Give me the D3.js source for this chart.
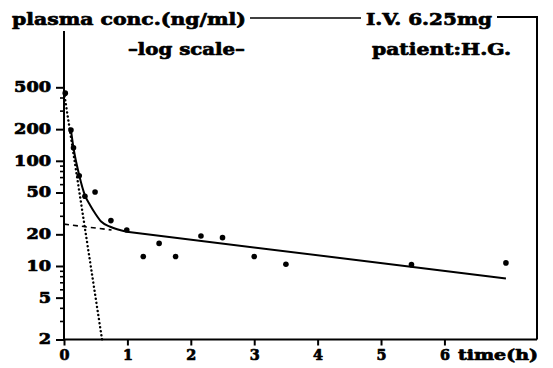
<!DOCTYPE html>
<html>
<head>
<meta charset="utf-8">
<script src="https://cdn.jsdelivr.net/npm/d3@7"></script>
<style>
  html, body { margin: 0; padding: 0; background: #fff; }
  svg { display: block; }
  text { font-family: "DejaVu Serif", "Liberation Serif", serif; font-weight: bold; fill: #000;
         stroke: #000; stroke-width: 0.7px; stroke-linejoin: round; }
</style>
</head>
<body>
<svg id="chart" width="553" height="368"></svg>
<script>
// Measured plasma concentrations after a 6.25 mg i.v. dose (patient H.G.)
const timeH    = [0.02, 0.11, 0.15, 0.24, 0.33, 0.49, 0.74, 0.99, 1.25, 1.50, 1.76, 2.16, 2.50, 3.00, 3.50, 5.48, 6.97];
const concNgMl = [440, 196, 133, 72, 46, 50.5, 27, 22, 12.3, 16.4, 12.3, 19.3, 18.6, 12.3, 10.4, 10.3, 10.7];

// Fitted curve: early distribution part and terminal log-linear part
const fitEarlyTime = [0.11, 0.147, 0.24, 0.33, 0.41, 0.49, 0.59, 0.73, 0.99];
const fitEarlyConc = [196, 136, 73, 47, 38, 31.7, 26.3, 23.6, 21.2];
const fitTermTime  = [0.99, 6.97];
const fitTermConc  = [21.2, 7.6];

// Back-extrapolated elimination phase (dashed) and residual distribution phase (dotted)
const betaTime  = [0, 0.75];
const betaConc  = [25, 22];
const alphaTime = [0, 0.6];
const alphaConc = [450, 2];

// Axis ticks
const yMajorTicks = [2, 5, 10, 20, 50, 100, 200, 500];
const yMinorTicks = [3, 4, 6, 7, 8, 9, 30, 40, 60, 70, 80, 90, 300, 400];
const xTicks = [0, 1, 2, 3, 4, 5, 6];

const svg = d3.select("#chart");

const x = d3.scaleLinear().domain([0, 7.46]).range([64, 537]);
const y = d3.scaleLog().domain([2, 500]).range([339.5, 87.3]);

const xRight = 537, yTop = 31, yBase = y(2);

// ---- header frame and labels ----
const head = svg.append("g");
head.append("text").attr("x", 12).attr("y", 25).attr("font-size", 17)
  .attr("textLength", 234).attr("lengthAdjust", "spacingAndGlyphs")
  .text("plasma conc.(ng/ml)");
head.append("line").attr("x1", 250).attr("x2", 361).attr("y1", 18).attr("y2", 18)
  .attr("stroke", "#000").attr("stroke-width", 1.5);
head.append("text").attr("x", 366).attr("y", 25).attr("font-size", 17)
  .attr("textLength", 126).attr("lengthAdjust", "spacingAndGlyphs")
  .text("I.V. 6.25mg");
head.append("path")
  .attr("d", `M497,17H${xRight}V${yBase}`)
  .attr("fill", "none").attr("stroke", "#000").attr("stroke-width", 2);
head.append("text").attr("x", 128).attr("y", 55).attr("font-size", 17)
  .attr("textLength", 117).attr("lengthAdjust", "spacingAndGlyphs")
  .text("\u2013log scale\u2013");
head.append("text").attr("x", 372).attr("y", 55).attr("font-size", 17)
  .attr("textLength", 139).attr("lengthAdjust", "spacingAndGlyphs")
  .text("patient:H.G.");

// ---- axes ----
const axisLines = svg.append("g").attr("stroke", "#000").attr("stroke-width", 2).attr("fill", "none");
axisLines.append("path").attr("d", `M${x(0)},${yTop}V${yBase}H${xRight}`);

const yAxis = svg.append("g")
  .attr("transform", `translate(${x(0)},0)`)
  .call(d3.axisLeft(y).tickValues(yMajorTicks).tickSize(8).tickPadding(5)
        .tickFormat(d3.format("d")));
yAxis.select(".domain").remove();
yAxis.selectAll(".tick line").attr("stroke", "#000").attr("stroke-width", 2);
yAxis.selectAll(".tick text")
  .attr("font-size", 14)
  .attr("font-family", "DejaVu Serif")
  .attr("font-weight", "bold")
  .attr("textLength", d => String(d).length * 12.3)
  .attr("lengthAdjust", "spacingAndGlyphs");

const yMinor = svg.append("g")
  .attr("transform", `translate(${x(0)},0)`)
  .call(d3.axisLeft(y).tickValues(yMinorTicks).tickSize(4).tickFormat(""));
yMinor.select(".domain").remove();
yMinor.selectAll(".tick line").attr("stroke", "#000").attr("stroke-width", 1.6);

const xAxis = svg.append("g")
  .attr("transform", `translate(0,${yBase})`)
  .call(d3.axisBottom(x).tickValues(xTicks).tickSize(6).tickPadding(5)
        .tickFormat(d3.format("d")));
xAxis.select(".domain").remove();
xAxis.selectAll(".tick line").attr("stroke", "#000").attr("stroke-width", 2);
xAxis.selectAll(".tick text")
  .attr("font-size", 14)
  .attr("font-family", "DejaVu Serif")
  .attr("font-weight", "bold")
  .attr("textLength", 10)
  .attr("lengthAdjust", "spacingAndGlyphs");

svg.append("text").attr("x", 458).attr("y", yBase + 20).attr("font-size", 15)
  .attr("textLength", 80).attr("lengthAdjust", "spacingAndGlyphs")
  .text("time(h)");

// ---- lines ----
const zip = (ts, cs) => ts.map((t, i) => [t, cs[i]]);
const line = d3.line().x(d => x(d[0])).y(d => y(d[1]));

svg.append("path").datum(zip(alphaTime, alphaConc))
  .attr("d", line).attr("fill", "none").attr("stroke", "#000")
  .attr("stroke-width", 2.4).attr("stroke-dasharray", "0.1 4").attr("stroke-linecap", "round");

svg.append("path").datum(zip(betaTime, betaConc))
  .attr("d", line).attr("fill", "none").attr("stroke", "#000")
  .attr("stroke-width", 1.6).attr("stroke-dasharray", "5 4");

svg.append("path").datum(zip(fitEarlyTime, fitEarlyConc))
  .attr("d", line.curve(d3.curveMonotoneX)).attr("fill", "none").attr("stroke", "#000")
  .attr("stroke-width", 2);
line.curve(d3.curveLinear);
svg.append("path").datum(zip(fitTermTime, fitTermConc))
  .attr("d", line).attr("fill", "none").attr("stroke", "#000")
  .attr("stroke-width", 2);

// ---- measured points ----
svg.append("g").selectAll("circle")
  .data(zip(timeH, concNgMl))
  .join("circle")
  .attr("cx", d => x(d[0]))
  .attr("cy", d => y(d[1]))
  .attr("r", 2.8)
  .attr("fill", "#000");
</script>
</body>
</html>
